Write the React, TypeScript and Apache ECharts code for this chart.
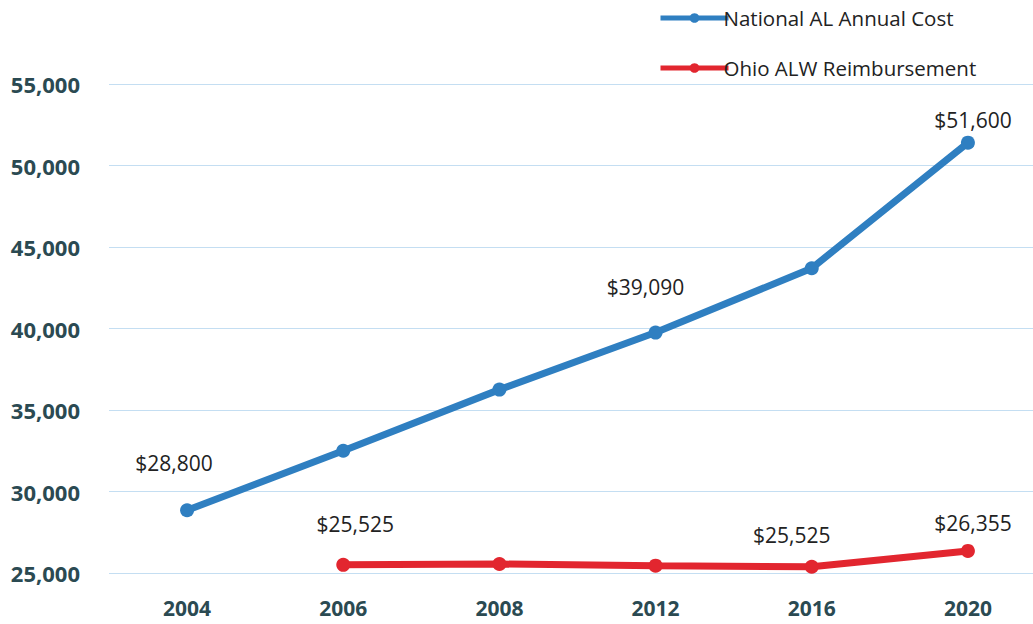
import React, { useEffect, useRef } from "react";
import * as echarts from "echarts";

const categories = ["2004", "2006", "2008", "2012", "2016", "2020"];
const nationalValues = [28850, 32500, 36250, 39750, 43700, 51400];
const ohioValues: (number | null)[] = [null, 25500, 25550, 25450, 25380, 26355];
const nationalLabels = ["$28,800", "", "", "$39,090", "", "$51,600"];
const ohioLabels = ["", "$25,525", "", "", "$25,525", "$26,355"];
const yTicks = { min: 25000, max: 55000, interval: 5000 };

// layout-only offsets for the point labels (dx, dy from the point centre)
const nationalLabelOffsets = [[-13, -47], [0, 0], [0, 0], [-10, -46], [0, 0], [5, -23]];
const ohioLabelOffsets = [[0, 0], [12, -41], [0, 0], [0, 0], [-20, -32], [5, -28]];

const FONT = "'Open Sans', 'Liberation Sans', sans-serif";

function buildData(values: (number | null)[], labels: string[], offsets: number[][]) {
  return values.map((v, i) => ({
    value: v === null ? "-" : v,
    label: labels[i]
      ? {
          show: true,
          position: "inside",
          offset: offsets[i],
          formatter: labels[i],
          color: "#222",
          fontSize: 21,
          fontFamily: FONT,
        }
      : { show: false },
  }));
}

export default function App() {
  const ref = useRef<HTMLDivElement>(null);
  useEffect(() => {
    if (!ref.current) return;
    const chart = echarts.init(ref.current, undefined, { renderer: "svg" });
    chart.setOption({
      animation: false,
      backgroundColor: "#ffffff",
      legend: {
        orient: "vertical",
        left: 653,
        top: 2,
        itemWidth: 68,
        itemHeight: 12,
        itemGap: 28,
        lineStyle: { width: 5 },
        textStyle: { fontFamily: FONT, fontSize: 20.5, color: "#222", lineHeight: 22, padding: [0, 0, 0, -10] },
        data: ["National AL Annual Cost", "Ohio ALW Reimbursement"],
      },
      grid: { left: 109, top: 84, width: 937, height: 489 },
      xAxis: {
        type: "category",
        data: categories,
        boundaryGap: true,
        axisLine: { show: false },
        axisTick: { show: false },
        axisLabel: { fontFamily: FONT, fontSize: 21, fontWeight: "bold", color: "#2b4a52", margin: 24 },
      },
      yAxis: {
        type: "value",
        min: yTicks.min,
        max: yTicks.max,
        interval: yTicks.interval,
        axisLine: { show: false },
        axisTick: { show: false },
        splitLine: { lineStyle: { color: "#c4def2", width: 1 } },
        axisLabel: {
          fontFamily: FONT,
          fontSize: 22,
          fontWeight: "bold",
          color: "#2b4a52",
          margin: 29,
          formatter: (v: number) => v.toLocaleString("en-US"),
        },
      },
      series: [
        {
          name: "National AL Annual Cost",
          type: "line",
          data: buildData(nationalValues, nationalLabels, nationalLabelOffsets),
          symbol: "circle",
          symbolSize: 14,
          lineStyle: { width: 7, color: "#2f7fc1" },
          itemStyle: { color: "#2f7fc1" },
        },
        {
          name: "Ohio ALW Reimbursement",
          type: "line",
          data: buildData(ohioValues, ohioLabels, ohioLabelOffsets),
          symbol: "circle",
          symbolSize: 14,
          lineStyle: { width: 7, color: "#e2262f" },
          itemStyle: { color: "#e2262f" },
        },
      ],
    });
    return () => chart.dispose();
  }, []);
  return (
    <div style={{ position: "fixed", left: 0, top: 0, width: 1033, height: 624, overflow: "hidden", background: "#fff" }}>
      <div ref={ref} style={{ width: 1046, height: 624 }} />
    </div>
  );
}
